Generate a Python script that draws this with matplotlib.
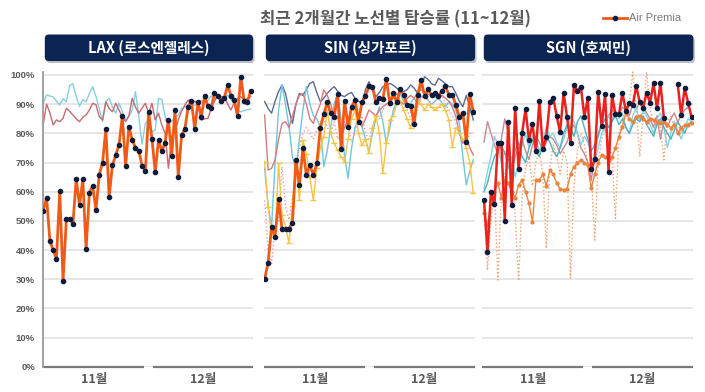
import numpy as np
import matplotlib
matplotlib.use('Agg')
import matplotlib.pyplot as plt
from matplotlib.patches import FancyBboxPatch

plt.rcParams['font.family'] = ['Noto Sans CJK KR', 'DejaVu Sans']

W, H = 705, 392

# --- data (load factor %) ---
title = '최근 2개월간 노선별 탑승률 (11~12월)'
routes = ['LAX (로스엔젤레스)', 'SIN (싱가포르)', 'SGN (호찌민)']
months = ['11월', '12월']
yticks = list(range(0, 101, 10))

lax_ap = [53.5, 58, 43.2, 40, 37, 60.2, 29.4, 50.6, 50.6, 49, 64.3, 55.3, 64.3, 40.3, 59.7, 62,
          53.7, 65.8, 70, 81.5, 58.2, 69.1, 72.5, 76.1, 85.8, 68.8, 82.2, 77.8, 75.1, 74, 68.9, 67.2,
          87.2, 78.2, 66.7, 77.7, 73.9, 76.8, 84.6, 72.3, 88, 65.1, 79.3, 81.5, 89.1, 91.2, 81.4, 90.9,
          85.5, 92.9, 89.3, 88.8, 93.7, 92.8, 91.2, 92.2, 96.6, 92.9, 91.5, 85.8, 99.4, 91.2, 90.7, 94.6]
lax_blue = [90.3, 93.2, 92.8, 92.5, 91, 89.7, 91.9, 90.8, 96.4, 97, 92.6, 89.3, 91.6, 90.8, 93.7, 96,
            92.6, 88.5, 84, 91, 92, 89.1, 86.9, 90.3, 87.4, 84.6, 85.7, 88, 94.3, 85.7, 76.3, 83.4,
            84.5, 80.6, 81.1, 92, 91.6, 85.7, 82.9, 84.2, 85.3, 86.3, 88.5, 89.1, 89.9, 90.3, 89.5, 90.5,
            91.2, 90.4, 91.3, 92.8, 91.5, 93.4, 92.1, 91.4, 93.2, 91.6, 90.3, 88, 87.4, 87.8, 88.1, 88.3]
lax_red = [83.4, 90, 87, 82.9, 84.6, 84, 85.2, 88.6, 87.5, 86.3, 85, 84, 85.5, 86.3, 88, 90.3,
           89.8, 85.7, 84.6, 90.8, 88.5, 87.4, 90.3, 88, 85.7, 84, 86, 92, 89, 86.9, 88.6, 90.3,
           86.9, 90.3, 84.6, 86.9, 82.9, 80, 68, 78.9, 80.5, 84.6, 87.5, 89.7, 91.4, 90, 91, 90.2,
           84.6, 85, 85.1, 88.5, 91, 93.1, 92.5, 92.6, 90, 88, 90.5, 92, 92.6, 91.4, 92, 92.6]

sin_ap = [30, 35.7, 48, 44.6, 57.4, 47.1, 47.1, 47.3, 49.4, 70.9, 62.3, 74.9, 65.7, 69.1, 65.7, 69.7,
          81.7, 86.6, 90.6, 86.9, 85.5, 93.5, 74.5, 91.1, 82.3, 89.1, 91.4, 84, 90.8, 92.8, 96.2, 96,
          90.6, 92, 91.9, 98.5, 90.3, 93.7, 90.7, 95.2, 93.1, 89.7, 89.4, 83.2, 93.1, 98.3, 92.9, 95.1,
          93.1, 93.7, 92.9, 94.5, 96.2, 93.1, 93.1, 89.7, 85.5, 87.1, 77.1, 93.4, 87.4]
sin_navy = [90.9, 88.5, 86.9, 91, 94.3, 96.6, 93.7, 88, 83.4, 90, 93.7, 93, 95, 97.1, 97.7, 94,
            90.9, 92, 93.7, 95, 96, 94.5, 93, 92.6, 93.5, 94, 92, 91, 90.3, 95, 97.7, 95,
            92.6, 94, 96, 96.5, 97.1, 96.5, 95.5, 94.5, 94.3, 95, 96.6, 95.5, 93.7, 96, 99.4, 98.5,
            97, 96.5, 98.9, 98, 97, 96, 96, 93.7, 91, 89.1, 93, 89, 84.6]
sin_blue = [68, 55, 48, 70, 88, 96.6, 90, 82.3, 72, 67.4, 78, 88, 96, 90, 86, 85,
            82.3, 68.6, 74, 82, 90, 93.7, 85, 72, 64.6, 75, 82, 85, 82.3, 78, 73.7, 80,
            85, 89.1, 84, 76.6, 82, 88, 91, 93.7, 91, 89, 90.5, 92, 90, 92.5, 93, 91.5,
            90, 91, 92, 90.5, 89, 91, 90, 88, 83.4, 72, 62.3, 67, 70.9]
sin_pink = [86.3, 67.4, 68, 70.9, 78, 83.4, 84, 82, 86, 90, 93, 93.7, 90, 85, 83.4, 87,
            90, 94.9, 93, 90, 86, 85.7, 78.9, 82, 85, 88, 89.1, 84, 82.3, 85, 88, 87,
            86, 88, 89.1, 90, 91, 92, 93.7, 91, 90, 92, 93, 92, 94, 95, 94, 93.5,
            93, 92.5, 92, 93, 92, 91, 89, 85.7, 80, 76.6, 78.9, 75, 72.6]
sin_pinkdot = [57, 40, 35.4, 48, 50, 68.6, 55, 50.3, 58, 65, 75, 80, 82, 80, 78, 81,
               84, 85, 82, 80, 84, 78, 80, 84, 82, 77, 80, 84, 86, 80, 78, 82,
               86, 85, 88, 90, 89, 91, 92, 90, 89, 88, 85, 84, 89, 92, 93, 91,
               90, 91, 92, 93, 90, 88, 86, 84, 80, 78, 76, 80, 80]
sin_yel = [70.3, 54.9, 45, 44.6, 69.7, 52, 48, 42.5, 55, 70, 57.1, 77.7, 73, 65, 57.1, 68,
           75, 78.9, 88, 80, 76.6, 74.3, 72, 70.3, 78, 85, 88, 80, 76, 78, 73.1, 82,
           86, 80, 66.3, 76.6, 84.6, 86, 90.3, 91, 88, 85, 81.7, 88, 91, 90, 88, 90,
           89.1, 88, 89, 90, 88, 84.6, 75.4, 82, 80, 78, 75, 70, 59.4]

nan = np.nan
sgn_ap = [57.1, 39.4, 59.8, 55.7, 76.8, 76.8, 50.1, 84, 55.4, 88.8, 67.8, 80, 88.3, 77.7, 83.2, 73.9,
          91.1, 74.5, 78.6, 90.6, 92.2, 85.9, 80.4, 93.9, 85.5, 76.8, 96.6, 94.6, 96, 85.7, 92, 67.7,
          71.1, 94.3, 82.5, 93.5, 66.9, 93.1, 86.5, 86.5, 93.9, 87.7, 90.3, 89.7, 96.2, 90.8, 88.8, 93.9,
          90.5, 97.2, 88.6, 97.2, 85.1, nan, nan, nan, 96.9, 86.3, 95.4, 90.5, 85.5]
sgn_mauve = [77, 84, 80, 76, 73, 78, 85, 80, 67, 72, 75, 78, 74, 71, 76, 79,
             77, 74, 77, 79, 78, 76, 73, 75, 77, 81, 83, 80, 75, 73, 70, 64,
             72, 80, 83, 85, 86, 88, 87, 86, 89, 88, 86, 90, 88, 91, 89, 87,
             85, 82, 86, 78, 84, 82, 85, 87, 84, 86, 88, 89, 90]
sgn_blue = [61, 67, 72, 79, 76, 70, 74, 68, 72, 65, 70, 76, 80, 75, 79, 78,
            74, 77, 82, 79, 80, 77, 75, 78, 82, 86, 84, 80, 76, 79, 77, 72,
            70, 75, 80, 82, 86, 84, 88, 85, 87, 82, 80, 86, 89, 84, 88, 86,
            83, 80, 85, 87, 82, 75, 80, 84, 81, 78, 82, 85, 84]
sgn_teal = [60, 63, 68, 72, 74, 76, 73, 71, 69, 74, 77, 72, 70, 75, 78, 74,
            72, 76, 79, 77, 74, 72, 75, 80, 83, 82, 79, 84, 86, 82, 78, 74,
            76, 79, 83, 85, 82, 84, 86, 83, 85, 82, 80, 83, 85, 84, 86, 83,
            81, 79, 83, 85, 82, 80, 78, 81, 84, 82, 80, 83, 84]
sgn_org = [52.6, 48.6, 56, 60, 62.9, 58, 64, 63, 60, 58, 62.3, 64, 60, 56, 49.7, 64,
           64, 66, 62, 67.4, 66, 63, 61, 60.6, 61, 66, 68.6, 70, 70.9, 70, 69, 61.1,
           66, 70, 72.6, 72, 71, 72, 75, 78.9, 82.3, 86.9, 85, 84, 85.7, 86, 85, 84,
           85, 84.6, 84, 83.4, 84, 83, 82, 82.9, 80, 82, 82.9, 83, 83.4]
sgn_dot = [55, 33, 50, 62, 29.7, 58, 66, 70, 64, 52, 29.4, 58, 68, 72, 62, 70,
           74, 66, 40.6, 68, 76, 72, 66, 74, 70, 30.3, 62, 74, 80, 76, 70, 66,
           43.4, 70, 78, 82, 76, 72, 50.9, 80, 84, 86, 90, 101, 88, 72, 86, 101,
           88, 84, 86, 82, 70.9, 84, 86, 82, 84, 80, 82, 84, 83]

AP_ORANGE = '#f05a16'
AP_RED = '#e8221c'
NAVY_DOT = '#0d1b3d'
GRAY_TXT = '#595959'
BOX = '#0c2452'
MS = 3.0

fig = plt.figure(figsize=(W / 100, H / 100), dpi=100)


def px_axes(x0, x1, y_top, y_bot):
    return fig.add_axes([x0 / W, 1 - y_bot / H, (x1 - x0) / W, (y_bot - y_top) / H])


# pixel layout of the three panels (left, right, 11월 end, 12월 start)
panels = [(43.3, 253, 144, 153), (264.3, 475, 365, 374), (482.3, 693.3, 583.3, 591.7)]
y0px, y100px = 366.7, 75.0
ytop = y100px - (y0px - y100px) * 0.01

axes = []
for k, (x0, x1, s1, s2) in enumerate(panels):
    ax = px_axes(x0, x1, ytop, y0px)
    ax.set_ylim(0, 101)
    ax.set_yticks(yticks)
    ax.yaxis.grid(True, color='#e4e4e4', lw=1.3)
    ax.set_axisbelow(True)
    ax.tick_params(length=0)
    ax.set_xticks([])
    for sp in ['top', 'right', 'bottom']:
        ax.spines[sp].set_visible(False)
    if k == 0:
        ax.spines['left'].set_color('#9a9a9a')
        ax.spines['left'].set_linewidth(1.3)
        ax.set_yticklabels([f'{v}%' for v in yticks], fontsize=6.8, color=GRAY_TXT,
                           fontweight='bold', family='Liberation Sans')
        ax.tick_params(axis='y', pad=6)
    else:
        ax.spines['left'].set_visible(False)
        ax.set_yticklabels([])
    w = x1 - x0
    for a, b in [(0, (s1 - x0) / w), ((s2 - x0) / w, 1.0)]:
        ax.plot([a, b], [0, 0], transform=ax.transAxes, color='#7a7a7a', lw=1.6,
                clip_on=False, solid_capstyle='butt')
    for m, (a, b) in zip(months, [(x0, s1), (s2, x1)]):
        ax.text(((a + b) / 2 - x0) / w, -0.045, m, transform=ax.transAxes, ha='center',
                va='center', fontsize=9, fontweight='bold', color=GRAY_TXT)
    axes.append(ax)

# LAX
ax = axes[0]
n = len(lax_ap)
x = np.arange(n)
ax.set_xlim(0, n - 0.3)
ax.plot(x, lax_blue, color='#86cfe2', lw=1.0)
ax.plot(x, lax_red, color='#c56a72', lw=1.0)
ax.plot(x, lax_ap, color=AP_ORANGE, lw=2.0, marker='o', ms=MS, mfc=NAVY_DOT, mec=NAVY_DOT, zorder=5)

# SIN
ax = axes[1]
n = len(sin_ap)
x = np.arange(n)
ax.set_xlim(-0.1, n - 0.5)
ax.plot(x, sin_navy, color='#5d6c8e', lw=1.0)
ax.plot(x, sin_blue, color='#6cc6dd', lw=1.0)
ax.plot(x, sin_pink, color='#d67a7e', lw=1.0)
ax.plot(x, sin_pinkdot, color='#ee9c9c', lw=1.0, ls=':')
ax.plot(x, sin_yel, color='#f6c445', lw=1.0, marker='_', ms=4, mew=1.0)
ax.plot(x, sin_ap, color=AP_ORANGE, lw=2.0, marker='o', ms=MS, mfc=NAVY_DOT, mec=NAVY_DOT, zorder=5)

# SGN
ax = axes[2]
n = len(sgn_ap)
x = np.arange(n)
ax.set_xlim(-0.5, n - 0.5)
ax.plot(x, sgn_dot, color='#f0a06a', lw=1.0, ls=':', clip_on=False)
ax.plot(x, sgn_mauve, color='#c48a94', lw=1.0)
ax.plot(x, sgn_blue, color='#86d3e4', lw=1.0)
ax.plot(x, sgn_teal, color='#4fb2bb', lw=1.0)
ax.plot(x, sgn_org, color='#e8843f', lw=1.0, marker='o', ms=2.0)
ax.plot(x, sgn_ap, color=AP_RED, lw=1.8, marker='o', ms=MS, mfc=NAVY_DOT, mec=NAVY_DOT, zorder=5)

# overlay for title, legend and header boxes (pixel coordinates)
ov = fig.add_axes([0, 0, 1, 1], zorder=10)
ov.set_xlim(0, W)
ov.set_ylim(H, 0)
ov.axis('off')
ov.patch.set_alpha(0)

ov.text(395, 19, title, ha='center', va='center', fontsize=12, fontweight='bold', color=GRAY_TXT)
ov.plot([603, 627], [18, 18], color=AP_ORANGE, lw=2.0)
ov.plot([615], [18], marker='o', ms=MS, color=NAVY_DOT)
ov.text(629, 18, 'Air Premia', ha='left', va='center', fontsize=8, color='#7a7a7a',
        family='Liberation Sans')

for (x0, x1, s1, s2), name in zip(panels, routes):
    bx0, bx1 = x0 + 1.5, x1
    shadow = FancyBboxPatch((bx0 + 1.5, 36.5), bx1 - bx0, 26.5,
                            boxstyle='round,pad=0,rounding_size=4', fc='#b8bcc6', ec='none')
    ov.add_patch(shadow)
    box = FancyBboxPatch((bx0, 34.5), bx1 - bx0, 26.5,
                         boxstyle='round,pad=0,rounding_size=4', fc=BOX, ec='none')
    ov.add_patch(box)
    ov.text((bx0 + bx1) / 2, 48, name, ha='center', va='center', fontsize=10.5,
            fontweight='bold', color='white')

fig.savefig('out.png', dpi=100)
